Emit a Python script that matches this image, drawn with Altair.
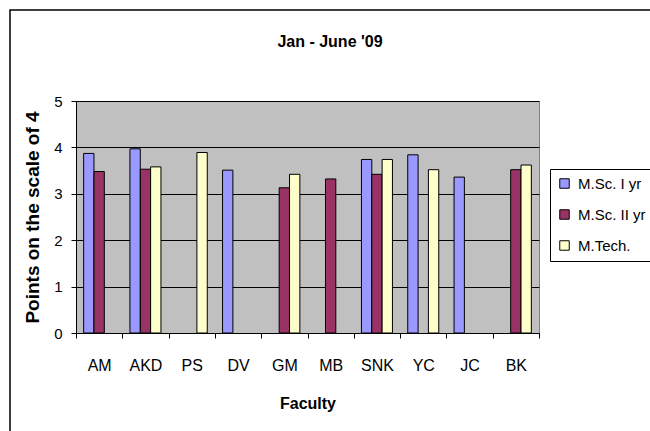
import altair as alt
import pandas as pd

# Faculty ratings, Jan - June '09 (points on a scale of 4)
faculty = ["AM", "AKD", "PS", "DV", "GM", "MB", "SNK", "YC", "JC", "BK"]
series = ["M.Sc. I yr", "M.Sc. II yr", "M.Tech."]
msc_1 = [3.87, 3.97, None, 3.51, None, None, 3.74, 3.84, 3.36, None]
msc_2 = [3.48, 3.53, None, None, 3.13, 3.32, 3.42, None, None, 3.52]
mtech = [None, 3.58, 3.89, None, 3.42, None, 3.74, 3.52, None, 3.62]
colors = ["#9999FF", "#993366", "#FFFFCC"]
y_ticks = [0, 1, 2, 3, 4, 5]
chart_title = "Jan - June '09"

rows = []
for name, vals in zip(series, [msc_1, msc_2, mtech]):
    for f, v in zip(faculty, vals):
        if v is not None:
            rows.append({"Faculty": f, "Course": name, "Points": v})
df = pd.DataFrame(rows)

FONT = "Liberation Sans"

bars = alt.Chart(df).mark_bar(stroke="black", strokeWidth=1).encode(
    x=alt.X(
        "Faculty:N",
        sort=faculty,
        scale=alt.Scale(domain=faculty, paddingInner=0, paddingOuter=0),
        axis=alt.Axis(
            title="Faculty",
            labelAngle=0,
            tickBand="extent",
            tickSize=5,
            tickColor="black",
            domainColor="black",
            labelFontSize=16,
            labelPadding=19,
            labelColor="black",
            titleFontSize=16,
            titleFontWeight="bold",
            titleColor="black",
            titlePadding=22,
            grid=False,
        ),
    ),
    xOffset=alt.XOffset(
        "Course:N",
        sort=series,
        scale=alt.Scale(domain=series, paddingInner=0, paddingOuter=0.74),
    ),
    y=alt.Y(
        "Points:Q",
        scale=alt.Scale(domain=[0, 5], nice=False),
        axis=alt.Axis(
            title="Points on the scale of 4",
            values=y_ticks,
            format="d",
            tickSize=5,
            tickColor="black",
            domainColor="black",
            gridColor="black",
            gridWidth=1,
            labelFontSize=15,
            labelPadding=9,
            labelColor="black",
            titleFontSize=19,
            titleFontWeight="bold",
            titleColor="black",
            titlePadding=11,
        ),
    ),
    color=alt.Color(
        "Course:N",
        sort=series,
        scale=alt.Scale(domain=series, range=colors),
        legend=alt.Legend(
            title=None,
            orient="none",
            legendX=474,
            legendY=68,
            symbolType="square",
            symbolSize=90,
            symbolStrokeColor="black",
            symbolStrokeWidth=1,
            symbolOpacity=1,
            labelFontSize=15,
            labelColor="black",
            labelOffset=6,
            rowPadding=15,
            padding=7,
            strokeColor="black",
            fillColor="white",
        ),
    ),
)

one_row = pd.DataFrame({"k": [0]})

# outer frame of the chart
frame = alt.Chart(one_row).mark_rect(
    filled=False, stroke="black", strokeWidth=1.5
).encode(
    x=alt.value(-66), x2=alt.value(700), y=alt.value(-91), y2=alt.value(500)
)

# chart heading
heading = alt.Chart(one_row).mark_text(
    font=FONT, fontSize=16, fontWeight="bold", color="black",
    align="center", baseline="middle",
).encode(
    x=alt.value(254), y=alt.value(-59), text=alt.value(chart_title)
)

chart = (
    alt.layer(frame, heading, bars)
    .properties(
        width=463,
        height=232,
        autosize=alt.AutoSizeParams(type="none"),
        padding={"left": 76, "top": 101, "right": 111, "bottom": 98},
        background="white",
    )
    .configure(font=FONT)
    .configure_view(fill="#C0C0C0", stroke="#808080", strokeWidth=1)
    .configure_axis(labelFont=FONT, titleFont=FONT)
    .configure_legend(labelFont=FONT)
)

chart.save("out.html", embed_options={"renderer": "svg", "actions": False})
